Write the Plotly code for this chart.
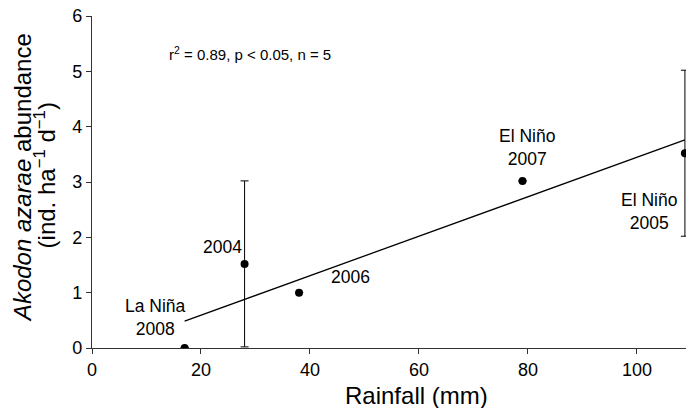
import numpy as np
import plotly.graph_objects as go

rainfall = [17, 28, 38, 79, 108.8]
abundance = [0.0, 1.52, 1.0, 3.02, 3.52]
err = [0, 1.5, 0, 0, 1.5]
labels = ["La Niña<br>2008", "2004", "2006", "El Niño<br>2007", "El Niño<br>2005"]
label_pos = [(11.65, 0.56), (24.0, 1.83), (47.5, 1.28), (79.8, 3.63), (102.2, 2.46)]

slope, intercept = np.polyfit(rainfall, abundance, 1)
fit_x = [min(rainfall), max(rainfall)]
fit_y = [slope * v + intercept for v in fit_x]

FONT = "Arial, Liberation Sans, sans-serif"

fig = go.Figure()
fig.add_trace(go.Scatter(
    x=rainfall, y=abundance, mode="markers",
    marker=dict(color="black", size=8),
    error_y=dict(type="data", array=err, visible=True, color="black",
                 thickness=1, width=4),
    showlegend=False))
fig.add_trace(go.Scatter(x=fit_x, y=fit_y, mode="lines",
                         line=dict(color="black", width=1.3), showlegend=False))

for (lx, ly), t in zip(label_pos, labels):
    fig.add_annotation(x=lx, y=ly, text=t, showarrow=False,
                       xanchor="center", yanchor="middle",
                       font=dict(family=FONT, size=17.5, color="black"))

fig.add_annotation(x=13.8, y=5.32, text="r<sup>2</sup> = 0.89, p < 0.05, n = 5",
                   showarrow=False, xanchor="left", yanchor="middle",
                   font=dict(family=FONT, size=15, color="black"))

fig.add_annotation(x=59.6, y=0, yref="paper", yshift=-47, text="Rainfall (mm)",
                   showarrow=False, xanchor="center", yanchor="middle",
                   font=dict(family=FONT, size=24, color="black"))

fig.add_annotation(x=0, xref="paper", xshift=-70, y=3.07, textangle=-90,
                   xanchor="center", yanchor="middle",
                   text="<i>Akodon azarae</i> abundance",
                   showarrow=False, font=dict(family=FONT, size=24, color="black"))
fig.add_annotation(x=0, xref="paper", xshift=-47.5, y=3.11, textangle=-90,
                   xanchor="center", yanchor="middle",
                   text="(ind. ha<sup>−1</sup> d<sup>−1</sup>)",
                   showarrow=False, font=dict(family=FONT, size=24, color="black"))

fig.update_layout(
    width=686, height=408,
    margin=dict(l=92, r=0, t=16, b=60, autoexpand=False),
    plot_bgcolor="white", paper_bgcolor="white",
    font=dict(family=FONT, color="black"),
    xaxis=dict(range=[0, 109], tickvals=[0, 20, 40, 60, 80, 100],
               showline=True, linecolor="#333", linewidth=1.3,
               ticks="outside", ticklen=5, tickcolor="#333", automargin=False,
               ticklabeloverflow="allow",
               tickfont=dict(size=18), showgrid=False, zeroline=False),
    yaxis=dict(range=[0, 6], tickvals=[0, 1, 2, 3, 4, 5, 6],
               showline=True, linecolor="#333", linewidth=1.3,
               ticks="outside", ticklen=5, tickcolor="#333", automargin=False,
               ticklabeloverflow="allow",
               tickfont=dict(size=18), showgrid=False, zeroline=False),
)

fig.write_html("out.html", config={"displayModeBar": False},
               post_script="document.body.style.margin='0';document.body.style.overflow='hidden';")
